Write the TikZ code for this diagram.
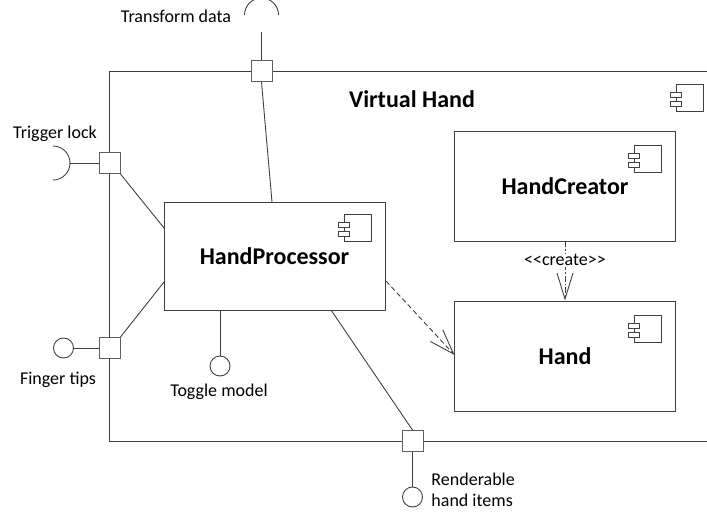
\documentclass[tikz,border=0pt]{standalone}
\usepackage{fontspec}
\setmainfont{Carlito}
\usetikzlibrary{arrows.meta,calc}
\definecolor{edge}{HTML}{404040}
\definecolor{portgray}{HTML}{606060}
\begin{document}
\begin{tikzpicture}[x=1pt,y=-1pt,
  line width=0.9pt,
  every node/.style={font=\fontsize{18}{21}\selectfont},
  comp/.style={draw=edge, minimum width=221pt, inner sep=0pt,
    font=\fontsize{24}{28}\selectfont\bfseries},
  port/.style={draw=portgray, fill=white, minimum size=21pt, inner sep=0pt},
  lolli/.style={draw=edge, fill=white, circle, minimum size=20pt, inner sep=0pt},
  wire/.style={draw=edge},
  dep/.style={draw=edge, dash pattern=on 5pt off 3pt,
    -{Straight Barb[length=25pt,width=17pt,line width=0.9pt]}},
  create/.style={draw=edge, dash pattern=on 6pt off 2pt on 1.5pt off 2pt,
    -{Straight Barb[length=26pt,width=16pt,line width=0.9pt]}},
  lbl/.style={inner sep=0pt}
]
\useasboundingbox (0,0) rectangle (707,512);

% component icon: box with two tabs on its left side
\newcommand{\compicon}[1]{%
  \draw[edge, line width=0.8pt] ($(#1)+(6,0)$) rectangle ($(#1)+(33,27)$);
  \draw[edge, line width=0.8pt, fill=white] ($(#1)+(0,8)$) rectangle ($(#1)+(11,13)$);
  \draw[edge, line width=0.8pt, fill=white] ($(#1)+(0,17)$) rectangle ($(#1)+(11,22)$);
}

% subsystem frame, open to the right
\draw[edge] (707,71) -- (109,71) -- (109,441) -- (707,441);
\node[font=\fontsize{24}{28}\selectfont\bfseries] (title) at (412,99) {Virtual Hand};
\coordinate (iconVH) at (670,84);

% components
\node[comp, minimum height=108pt] (proc) at (274.5,256) {HandProcessor};
\node[comp, minimum height=110pt] (creator) at (565,186) {HandCreator};
\node[comp, minimum height=110pt] (hand) at (565,356) {Hand};

% ports on the frame
\node[port] (ptop) at (261.5,71) {};
\node[port] (ptrig) at (109.5,163) {};
\node[port] (pfing) at (109.5,348) {};
\node[port] (pbot) at (412.5,441) {};

% provided / required interfaces
\coordinate (sockTop) at (261.5,15);
\coordinate (sockTrig) at (53,163);
\node[lolli] (lfing) at (63.5,348) {};
\node[lolli] (ltog) at (220,366) {};
\node[lolli] (lbot) at (412.5,497) {};

% required sockets
\draw[edge] ($(sockTop)+(-17,0)$) arc[start angle=180, end angle=360, radius=17];
\draw[edge] ($(sockTrig)+(0,-17)$) arc[start angle=-90, end angle=90, radius=17];

% interface wires
\draw[wire] (ptop.north) -- ($(sockTop)+(0,17)$);
\draw[wire] (ptrig.west) -- ($(sockTrig)+(17,0)$);
\draw[wire] (pfing.west) -- (lfing.east);
\draw[wire] (pbot.south) -- (lbot.north);
\draw[wire] (ltog.north) -- (ltog.north |- proc.south);

% internal delegation wires
\draw[wire] (ptop.south) -- (272,202);
\draw[wire] (ptrig.south east) -- (164,228);
\draw[wire] (pfing.north east) -- (164,282);
\draw[wire] (331,310) -- (pbot.north);

% dependencies
\draw[dep] (386,281) -- (454.5,355);
\draw[create] (creator.south) -- (creator.south |- hand.north)
  node[pos=0.32, fill=white, inner sep=1pt] (lcreate) {<\kern0pt<create>\kern0pt>};

% icons
\compicon{iconVH}
\compicon{338,214}
\compicon{628,145}
\compicon{628,315}

% labels
\node[lbl] (tTrans) at (176,16) {Transform data};
\node[lbl] (tTrig) at (55,134) {Trigger lock};
\node[lbl] (tFing) at (58,380) {Finger tips};
\node[lbl] (tTog) at (219,392) {Toggle model};
\node[lbl, align=left, anchor=west] (tRend) at (431,490) {Renderable\\hand items};
\end{tikzpicture}
\end{document}
